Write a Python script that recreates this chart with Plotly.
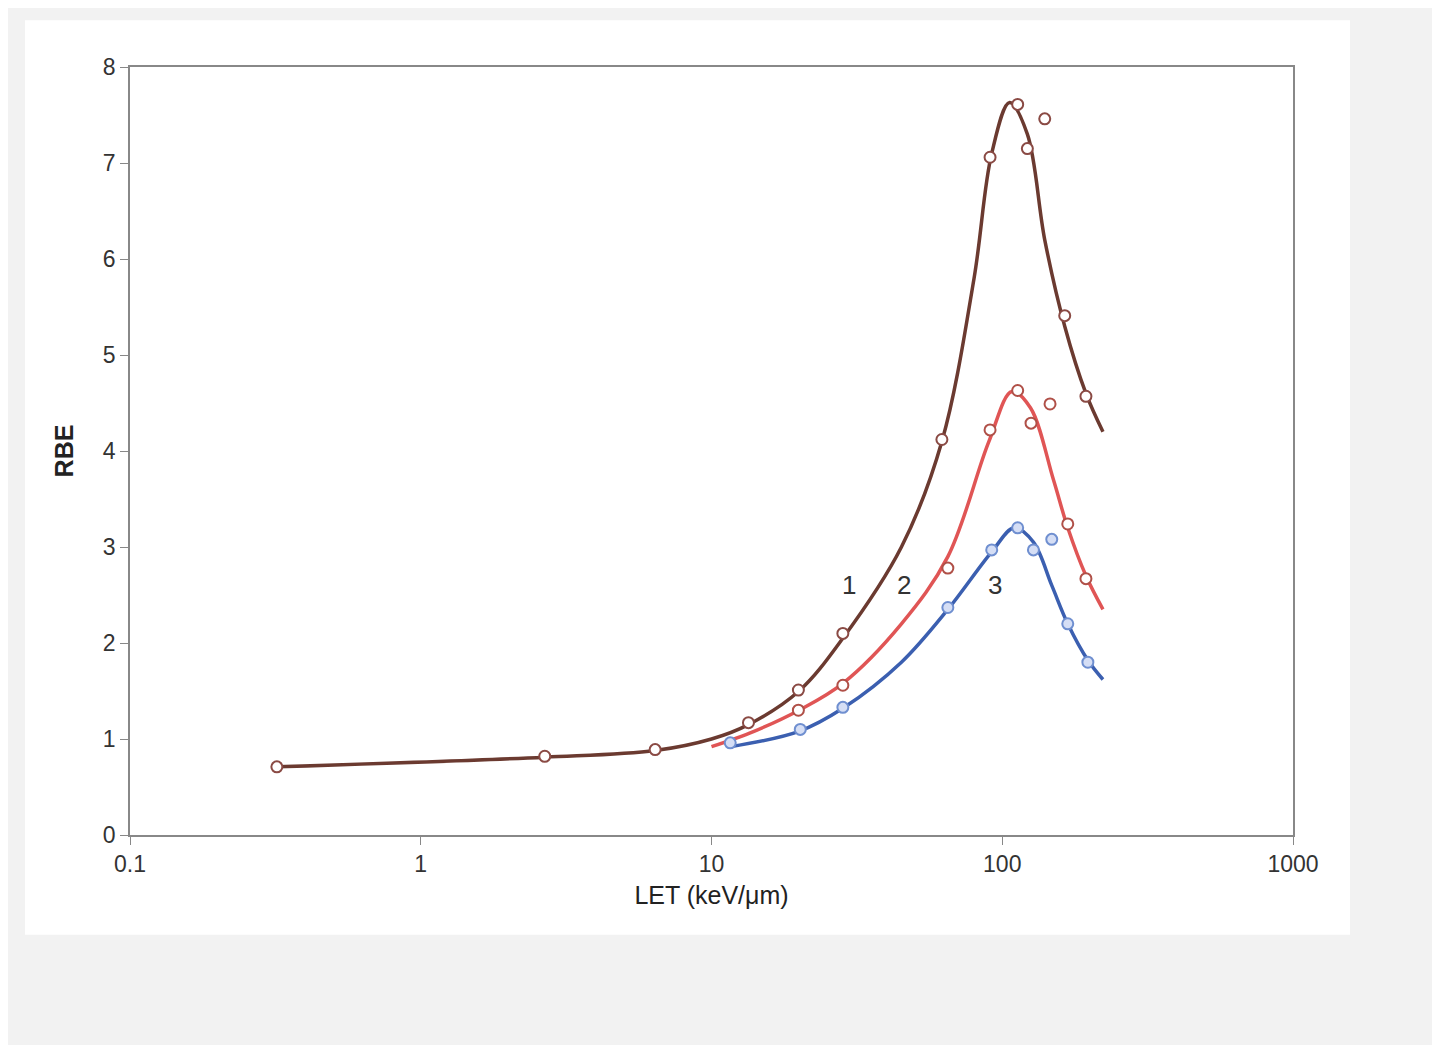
import math
import plotly.graph_objects as go

# Marker data (LET keV/um, RBE)
m1_x = [0.32, 2.67, 6.4, 13.4, 19.9, 28.3, 62, 90.8, 113, 122, 140, 164, 194]
m1_y = [0.71, 0.82, 0.89, 1.17, 1.51, 2.1, 4.12, 7.06, 7.61, 7.15, 7.46, 5.41, 4.57]
m2_x = [19.9, 28.3, 65, 90.8, 113, 125.6, 146, 168, 194]
m2_y = [1.3, 1.56, 2.78, 4.22, 4.63, 4.29, 4.49, 3.24, 2.67]
m3_x = [11.6, 20.2, 28.3, 65, 92, 113, 128, 148, 168, 197]
m3_y = [0.96, 1.1, 1.33, 2.37, 2.97, 3.2, 2.97, 3.08, 2.2, 1.8]

# Fitted curves
c1_x = [0.32, 2.67, 6.4, 10, 13.4, 20, 28.3, 45, 62, 80, 92, 106, 122, 140, 164, 194, 222]
c1_y = [0.71, 0.81, 0.88, 1.0, 1.15, 1.5, 2.05, 3.0, 4.1, 5.8, 7.1, 7.63, 7.3, 6.2, 5.3, 4.6, 4.2]
c2_x = [10, 14, 20, 28.3, 45, 65, 90, 108, 125, 150, 168, 194, 222]
c2_y = [0.92, 1.08, 1.3, 1.58, 2.2, 2.9, 4.1, 4.62, 4.45, 3.7, 3.2, 2.7, 2.35]
c3_x = [11.6, 20, 28.3, 45, 65, 92, 110, 128, 148, 168, 197, 222]
c3_y = [0.92, 1.08, 1.32, 1.8, 2.35, 2.95, 3.2, 3.05, 2.6, 2.2, 1.82, 1.62]

labels = ["1", "2", "3"]
label_x = [29.7, 45.9, 94.4]
label_y = [2.6, 2.6, 2.6]

brown, red, blue = "#6b3a30", "#e05555", "#3b5fb0"

fig = go.Figure()
for cx, cy, col in [(c1_x, c1_y, brown), (c2_x, c2_y, red), (c3_x, c3_y, blue)]:
    fig.add_trace(go.Scatter(x=cx, y=cy, mode="lines", line=dict(color=col, width=3.5, shape="spline", smoothing=1.0), hoverinfo="skip"))
for mx, my, lc, fc in [(m1_x, m1_y, "#8a4a44", "white"), (m2_x, m2_y, "#b05048", "white"), (m3_x, m3_y, "#6f8fd0", "#d5def5")]:
    fig.add_trace(go.Scatter(x=mx, y=my, mode="markers", marker=dict(size=11, color=fc, line=dict(color=lc, width=2))))
for t, x, y in zip(labels, label_x, label_y):
    fig.add_annotation(x=math.log10(x), y=y, xref="x", yref="y", text=t, showarrow=False,
                       font=dict(size=26, color="#333", family="Liberation Sans"))

fig.add_shape(type="rect", xref="paper", yref="paper", x0=-0.0903, x1=1.049, y0=-0.130, y1=1.061,
              fillcolor="white", line=dict(width=0), layer="below")

axis_common = dict(showline=True, linecolor="#888", linewidth=1.5, mirror=True, ticks="outside",
                   tickcolor="#888", ticklen=8, showgrid=False, zeroline=False,
                   tickfont=dict(size=23, color="#333", family="Liberation Sans"))
fig.update_xaxes(type="log", range=[-1, 3], tickvals=[0.1, 1, 10, 100, 1000],
                 ticktext=["0.1", "1", "10", "100", "1000"],
                 title=dict(text="LET (keV/μm)", font=dict(size=25, color="#222", family="Liberation Sans"), standoff=10),
                 **axis_common)
fig.update_yaxes(range=[0, 8], tickvals=list(range(9)),
                 title=dict(text="<b>RBE</b>", font=dict(size=25, color="#222", family="Liberation Sans"), standoff=22),
                 **axis_common)
fig.update_layout(width=1440, height=1045, showlegend=False, paper_bgcolor="#f2f2f2", plot_bgcolor="white",
                  margin=dict(l=122, r=155, t=59, b=218))
fig.write_html("out.html")
